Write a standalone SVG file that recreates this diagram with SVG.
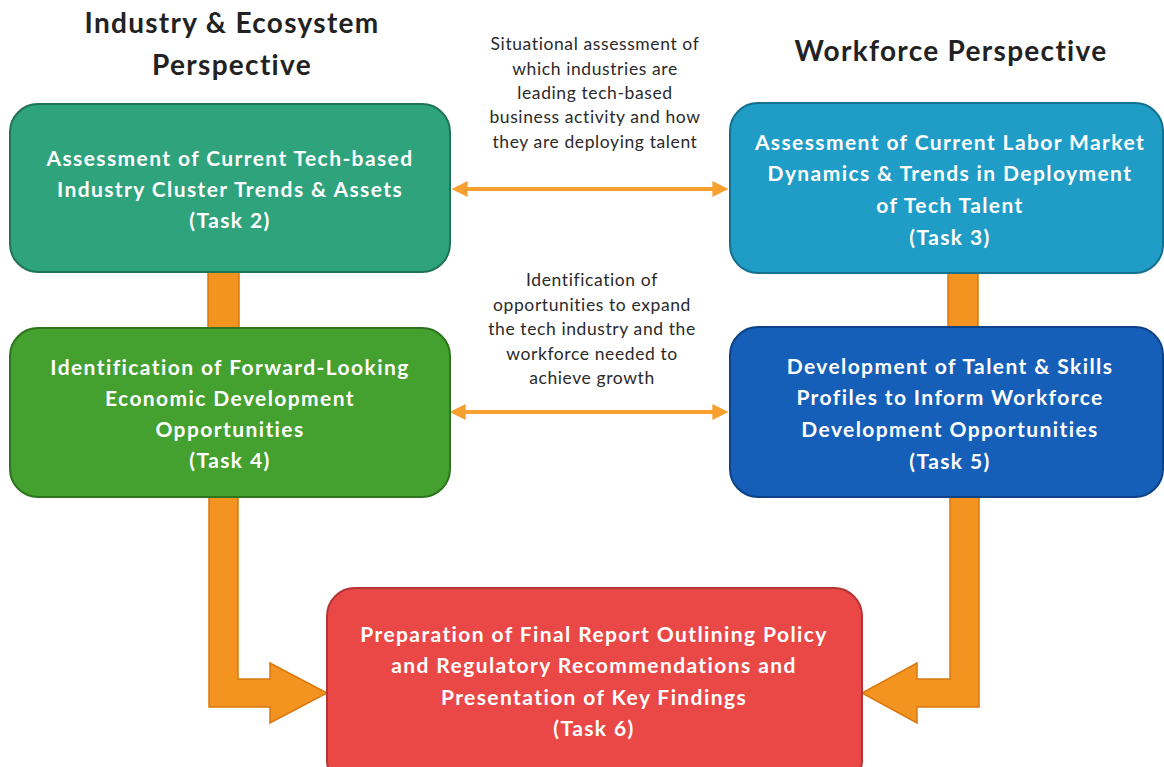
<svg xmlns="http://www.w3.org/2000/svg" width="1164" height="767" viewBox="0 0 1164 767">
<defs>
<style>
.title{font-family:Lato,"Open Sans","Liberation Sans",sans-serif;font-weight:700;font-size:28px;fill:#222;text-anchor:middle;letter-spacing:1.3px}
.lbl{font-family:Lato,"Open Sans","Liberation Sans",sans-serif;font-size:17.5px;fill:#2a2a2a;text-anchor:middle;letter-spacing:0.6px}
.bt{font-family:Lato,"Open Sans","Liberation Sans",sans-serif;font-weight:700;font-size:21px;fill:#fff;text-anchor:middle;letter-spacing:1.4px}
.box{stroke-width:2}
.bar{fill:#F39320;stroke:#D9780F;stroke-width:1.5}
.dbl{stroke:#F7A030;stroke-width:4;fill:none;marker-start:url(#ahs);marker-end:url(#ahe)}
</style>
<marker id="ahe" viewBox="0 0 10 10" refX="6" refY="5" markerWidth="4" markerHeight="4" orient="auto" markerUnits="strokeWidth">
<path d="M0,0 L10,5 L0,10 Z" fill="#F7A030"/>
</marker>
<marker id="ahs" viewBox="0 0 10 10" refX="4" refY="5" markerWidth="4" markerHeight="4" orient="auto" markerUnits="strokeWidth">
<path d="M10,0 L0,5 L10,10 Z" fill="#F7A030"/>
</marker>
</defs>
<rect width="1164" height="767" fill="#fff"/>

<g id="titles">
<text class="title" x="232" y="33">Industry &amp; Ecosystem</text>
<text class="title" x="232" y="75">Perspective</text>
<text class="title" x="951" y="61">Workforce Perspective</text>
</g>

<g id="connectors">
<rect class="bar" x="208" y="268" width="31" height="64"/>
<rect class="bar" x="948" y="268" width="30" height="64"/>
<path class="bar" d="M209,494 L238,494 L238,679 L270,679 L270,663 L327,693 L270,723 L270,707 L209,707 Z"/>
<path class="bar" d="M979,494 L950,494 L950,679 L917,679 L917,663 L862,693 L917,723 L917,707 L979,707 Z"/>
<line class="dbl" x1="458" y1="189" x2="722" y2="189"/>
<line class="dbl" x1="456" y1="412" x2="722" y2="412"/>
</g>

<g id="label-top">
<text class="lbl" x="595" y="50">Situational assessment of</text>
<text class="lbl" x="595" y="75">which industries are</text>
<text class="lbl" x="595" y="99">leading tech-based</text>
<text class="lbl" x="595" y="123">business activity and how</text>
<text class="lbl" x="595" y="148">they are deploying talent</text>
</g>

<g id="label-mid">
<text class="lbl" x="592" y="286">Identification of</text>
<text class="lbl" x="592" y="311">opportunities to expand</text>
<text class="lbl" x="592" y="335">the tech industry and the</text>
<text class="lbl" x="592" y="360">workforce needed to</text>
<text class="lbl" x="592" y="384">achieve growth</text>
</g>

<g id="task2">
<rect class="box" x="10" y="104" width="440" height="168" rx="28" fill="#2EA37C" stroke="#1F7458"/>
<text class="bt" x="230" y="166">Assessment of Current Tech-based</text>
<text class="bt" x="230" y="197">Industry Cluster Trends &amp; Assets</text>
<text class="bt" x="230" y="228">(Task 2)</text>
</g>

<g id="task4">
<rect class="box" x="10" y="328" width="440" height="169" rx="28" fill="#44A02F" stroke="#2E731E"/>
<text class="bt" x="230" y="375">Identification of Forward-Looking</text>
<text class="bt" x="230" y="406">Economic Development</text>
<text class="bt" x="230" y="437">Opportunities</text>
<text class="bt" x="230" y="468">(Task 4)</text>
</g>

<g id="task3">
<rect class="box" x="730" y="103" width="433" height="170" rx="28" fill="#1F9DC7" stroke="#15708F"/>
<text class="bt" x="950" y="150">Assessment of Current Labor Market</text>
<text class="bt" x="950" y="181">Dynamics &amp; Trends in Deployment</text>
<text class="bt" x="950" y="213">of Tech Talent</text>
<text class="bt" x="950" y="245">(Task 3)</text>
</g>

<g id="task5">
<rect class="box" x="730" y="327" width="433" height="170" rx="28" fill="#155FB9" stroke="#0D4386"/>
<text class="bt" x="950" y="374">Development of Talent &amp; Skills</text>
<text class="bt" x="950" y="405">Profiles to Inform Workforce</text>
<text class="bt" x="950" y="437">Development Opportunities</text>
<text class="bt" x="950" y="469">(Task 5)</text>
</g>

<g id="task6">
<rect class="box" x="327" y="588" width="535" height="200" rx="28" fill="#EA4747" stroke="#B53434"/>
<text class="bt" x="594" y="642">Preparation of Final Report Outlining Policy</text>
<text class="bt" x="594" y="673">and Regulatory Recommendations and</text>
<text class="bt" x="594" y="705">Presentation of Key Findings</text>
<text class="bt" x="594" y="736">(Task 6)</text>
</g>
</svg>
